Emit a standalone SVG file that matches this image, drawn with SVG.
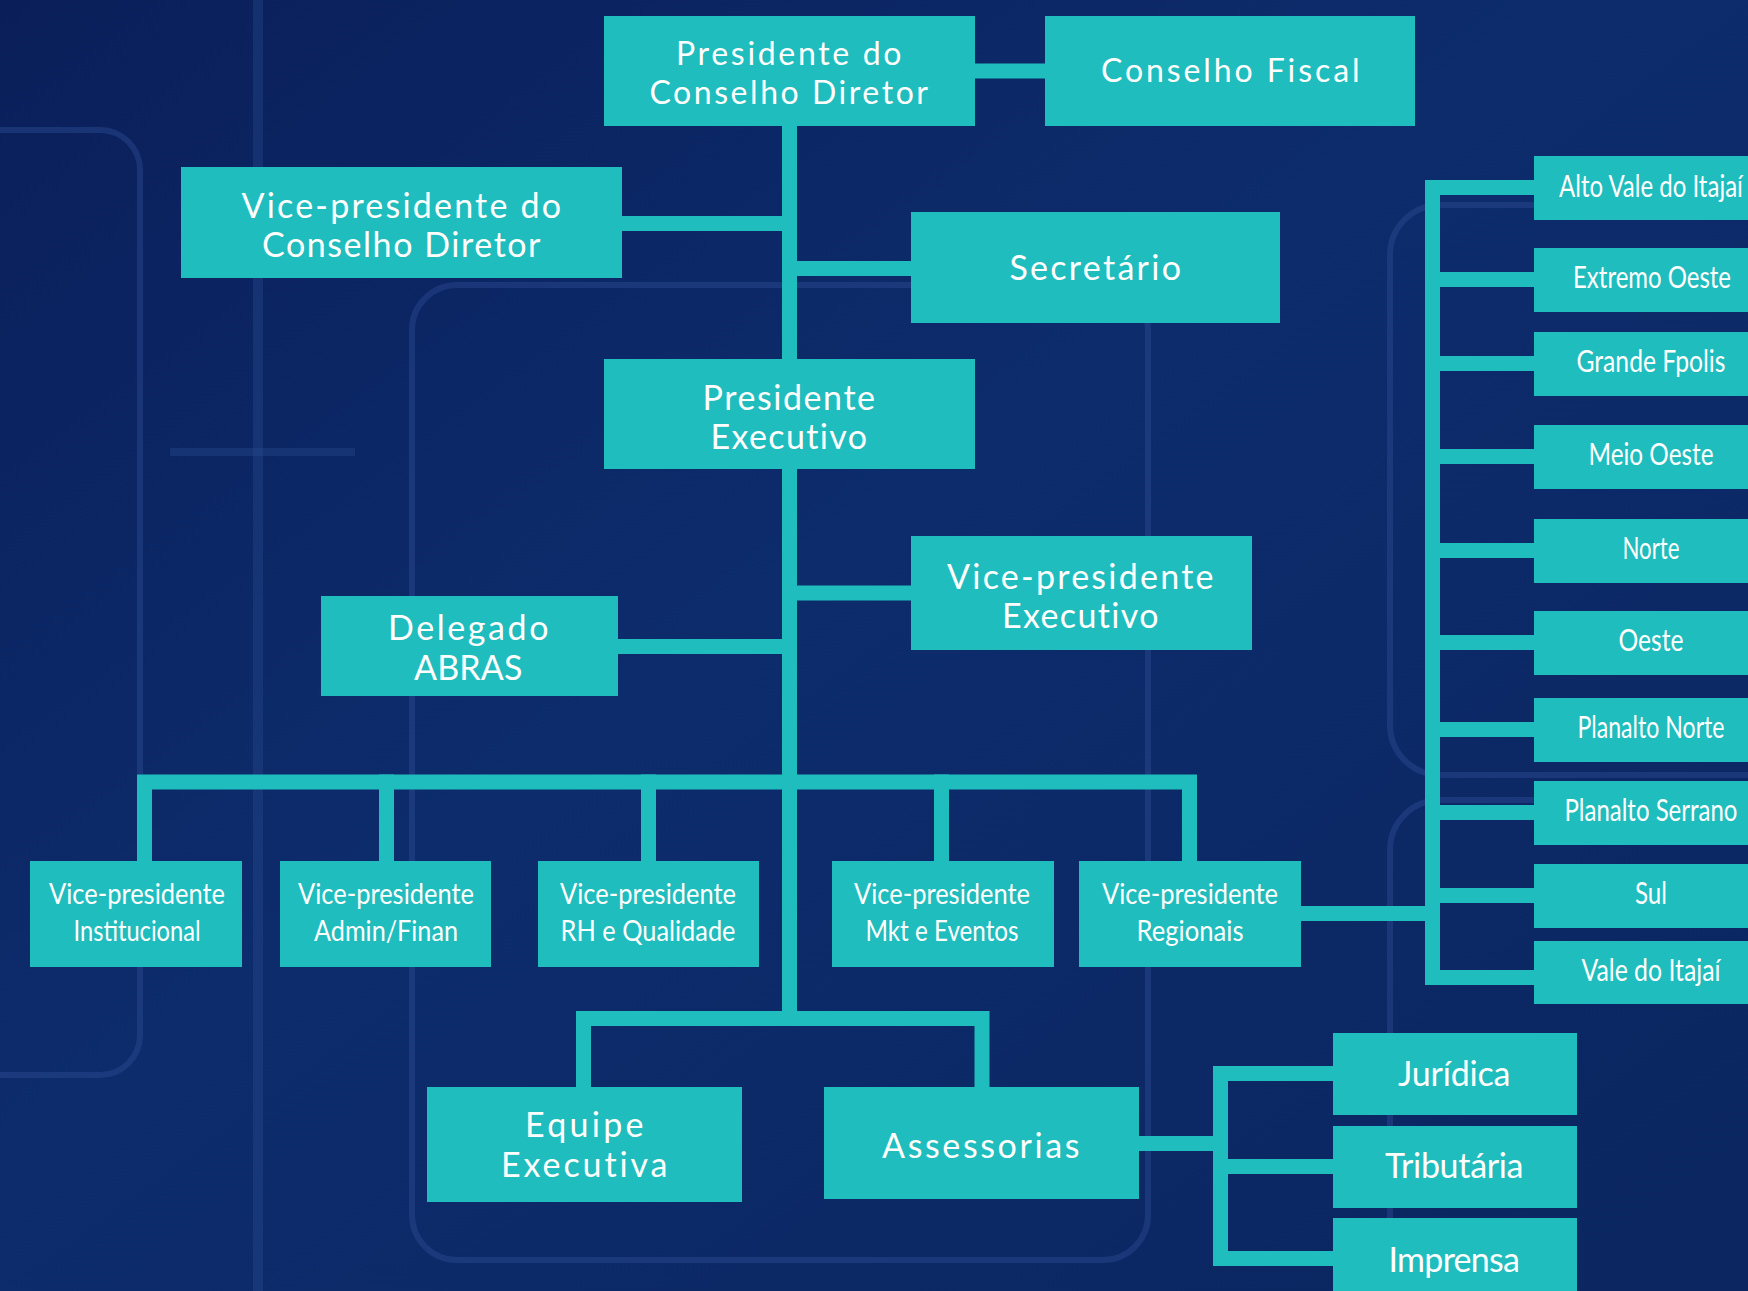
<svg xmlns="http://www.w3.org/2000/svg" width="1748" height="1291" viewBox="0 0 1748 1291">
<defs>
<linearGradient id="bg" x1="0" y1="0" x2="1" y2="1">
<stop offset="0" stop-color="#0a1f5a"/>
<stop offset="0.45" stop-color="#0d2c6c"/>
<stop offset="1" stop-color="#0b2660"/>
</linearGradient>
<style>
.box{fill:#1fbdbd}
.cn{fill:none;stroke:#1fbdbd;stroke-width:15;stroke-linecap:square;stroke-linejoin:miter}
.t{fill:#ffffff;font-family:Lato,"Open Sans","Liberation Sans",sans-serif;text-anchor:middle}
.a{font-size:32px;letter-spacing:1.5px}
.b{font-size:34px;letter-spacing:1.5px}
.c{font-size:28px}
.r{font-size:30px}
.deco{fill:none;stroke:#2c4c93;stroke-opacity:0.45;stroke-width:6}
</style>
</defs>
<rect width="1748" height="1291" fill="url(#bg)"/>
<g id="background">
<rect x="-40" y="130" width="180" height="945" rx="40" class="deco"/>
<rect x="412" y="285" width="736" height="975" rx="45" class="deco" stroke-opacity="0.3"/>
<rect x="1390" y="205" width="420" height="570" rx="50" class="deco" stroke-opacity="0.3"/>
<rect x="1390" y="800" width="420" height="520" rx="50" class="deco" stroke-opacity="0.25"/>
<line x1="258" y1="0" x2="258" y2="1291" stroke="#2c4c93" stroke-opacity="0.35" stroke-width="10"/>
<line x1="170" y1="452" x2="355" y2="452" stroke="#2c4c93" stroke-opacity="0.35" stroke-width="8"/>
</g>
<g id="connectors">
<path class="cn" d="M789.5 126V1018.5"/>
<path class="cn" d="M975 71H1045"/>
<path class="cn" d="M622 223.5H789.5"/>
<path class="cn" d="M789.5 268.5H911"/>
<path class="cn" d="M789.5 593H911"/>
<path class="cn" d="M618 646.5H789.5"/>
<path class="cn" d="M144.5 861V782H1189.5V861"/>
<path class="cn" d="M386.5 782V861M648.5 782V861M941.5 782V861"/>
<path class="cn" d="M1301 913.5H1432.5"/>
<path class="cn" d="M1534 187.5H1432.5V977.5H1534"/>
<path class="cn" d="M1432.5 279.5H1534M1432.5 363.5H1534M1432.5 456.5H1534M1432.5 550.5H1534M1432.5 642.5H1534M1432.5 729.5H1534M1432.5 812.5H1534M1432.5 895.5H1534"/>
<path class="cn" d="M583.5 1087V1018.5H982V1087"/>
<path class="cn" d="M1139 1143.5H1220.5"/>
<path class="cn" d="M1333 1073.5H1220.5V1258.5H1333M1220.5 1166.5H1333"/>
</g>
<g id="n-presidente-conselho"><rect class="box" x="604" y="16" width="371" height="110"/>
<text class="t a" x="789.5" y="65" textLength="227" lengthAdjust="spacing">Presidente do</text>
<text class="t a" x="789.5" y="104" textLength="280" lengthAdjust="spacing">Conselho Diretor</text></g>
<g id="n-conselho-fiscal"><rect class="box" x="1045" y="16" width="370" height="110"/>
<text class="t a" x="1231" y="82" textLength="260" lengthAdjust="spacing">Conselho Fiscal</text></g>
<g id="n-vp-conselho"><rect class="box" x="181" y="167" width="441" height="111"/>
<text class="t b" x="402" y="218" textLength="321" lengthAdjust="spacing">Vice-presidente do</text>
<text class="t b" x="402" y="257" textLength="280" lengthAdjust="spacing">Conselho Diretor</text></g>
<g id="n-secretario"><rect class="box" x="911" y="212" width="369" height="111"/>
<text class="t b" x="1096" y="280" textLength="173" lengthAdjust="spacing">Secretário</text></g>
<g id="n-presidente-executivo"><rect class="box" x="604" y="359" width="371" height="110"/>
<text class="t b" x="789.5" y="410" textLength="174" lengthAdjust="spacing">Presidente</text>
<text class="t b" x="789.5" y="449" textLength="158" lengthAdjust="spacing">Executivo</text></g>
<g id="n-vp-executivo"><rect class="box" x="911" y="536" width="341" height="114"/>
<text class="t b" x="1081" y="589" textLength="268" lengthAdjust="spacing">Vice-presidente</text>
<text class="t b" x="1081" y="628" textLength="158" lengthAdjust="spacing">Executivo</text></g>
<g id="n-delegado"><rect class="box" x="321" y="596" width="297" height="100"/>
<text class="t b" x="469" y="640" textLength="162" lengthAdjust="spacing">Delegado</text>
<text class="t b" x="469" y="680" textLength="110" lengthAdjust="spacing">ABRAS</text></g>
<g id="n-vp-institucional"><rect class="box" x="30" y="861" width="212" height="106"/>
<text class="t c" x="137" y="904" textLength="176" lengthAdjust="spacingAndGlyphs">Vice-presidente</text>
<text class="t c" x="137" y="941" textLength="127" lengthAdjust="spacingAndGlyphs">Institucional</text></g>
<g id="n-vp-admin"><rect class="box" x="280" y="861" width="211" height="106"/>
<text class="t c" x="386" y="904" textLength="176" lengthAdjust="spacingAndGlyphs">Vice-presidente</text>
<text class="t c" x="386" y="941" textLength="144" lengthAdjust="spacingAndGlyphs">Admin/Finan</text></g>
<g id="n-vp-rh"><rect class="box" x="538" y="861" width="221" height="106"/>
<text class="t c" x="648" y="904" textLength="176" lengthAdjust="spacingAndGlyphs">Vice-presidente</text>
<text class="t c" x="648" y="941" textLength="175" lengthAdjust="spacingAndGlyphs">RH e Qualidade</text></g>
<g id="n-vp-mkt"><rect class="box" x="832" y="861" width="222" height="106"/>
<text class="t c" x="942" y="904" textLength="176" lengthAdjust="spacingAndGlyphs">Vice-presidente</text>
<text class="t c" x="942" y="941" textLength="153" lengthAdjust="spacingAndGlyphs">Mkt e Eventos</text></g>
<g id="n-vp-regionais"><rect class="box" x="1079" y="861" width="222" height="106"/>
<text class="t c" x="1190" y="904" textLength="176" lengthAdjust="spacingAndGlyphs">Vice-presidente</text>
<text class="t c" x="1190" y="941" textLength="107" lengthAdjust="spacingAndGlyphs">Regionais</text></g>
<g id="n-alto-vale"><rect class="box" x="1534" y="156" width="214" height="64"/>
<text class="t r" transform="scale(0.75 1)" x="2201.3" y="197" textLength="245" lengthAdjust="spacingAndGlyphs">Alto Vale do Itajaí</text></g>
<g id="n-extremo-oeste"><rect class="box" x="1534" y="248" width="214" height="64"/>
<text class="t r" transform="scale(0.75 1)" x="2202.7" y="288" textLength="210.7" lengthAdjust="spacingAndGlyphs">Extremo Oeste</text></g>
<g id="n-grande-fpolis"><rect class="box" x="1534" y="332" width="214" height="64"/>
<text class="t r" transform="scale(0.75 1)" x="2201.3" y="372" textLength="198.7" lengthAdjust="spacingAndGlyphs">Grande Fpolis</text></g>
<g id="n-meio-oeste"><rect class="box" x="1534" y="425" width="214" height="64"/>
<text class="t r" transform="scale(0.75 1)" x="2201.3" y="465" textLength="166.7" lengthAdjust="spacingAndGlyphs">Meio Oeste</text></g>
<g id="n-norte"><rect class="box" x="1534" y="519" width="214" height="64"/>
<text class="t r" transform="scale(0.75 1)" x="2201.3" y="559" textLength="76" lengthAdjust="spacingAndGlyphs">Norte</text></g>
<g id="n-oeste"><rect class="box" x="1534" y="611" width="214" height="64"/>
<text class="t r" transform="scale(0.75 1)" x="2201.3" y="651" textLength="86.7" lengthAdjust="spacingAndGlyphs">Oeste</text></g>
<g id="n-planalto-norte"><rect class="box" x="1534" y="698" width="214" height="64"/>
<text class="t r" transform="scale(0.75 1)" x="2201.3" y="738" textLength="196" lengthAdjust="spacingAndGlyphs">Planalto Norte</text></g>
<g id="n-planalto-serrano"><rect class="box" x="1534" y="781" width="214" height="64"/>
<text class="t r" transform="scale(0.75 1)" x="2201.3" y="821" textLength="230.7" lengthAdjust="spacingAndGlyphs">Planalto Serrano</text></g>
<g id="n-sul"><rect class="box" x="1534" y="864" width="214" height="64"/>
<text class="t r" transform="scale(0.75 1)" x="2201.3" y="904" textLength="42.7" lengthAdjust="spacingAndGlyphs">Sul</text></g>
<g id="n-vale-itajai"><rect class="box" x="1534" y="941" width="214" height="63"/>
<text class="t r" transform="scale(0.75 1)" x="2201.3" y="981" textLength="185.3" lengthAdjust="spacingAndGlyphs">Vale do Itajaí</text></g>
<g id="n-equipe"><rect class="box" x="427" y="1087" width="315" height="115"/>
<text class="t b" x="585" y="1137" textLength="120" lengthAdjust="spacing">Equipe</text>
<text class="t b" x="585" y="1177" textLength="168" lengthAdjust="spacing">Executiva</text></g>
<g id="n-assessorias"><rect class="box" x="824" y="1087" width="315" height="112"/>
<text class="t b" x="981.5" y="1158" textLength="199" lengthAdjust="spacing">Assessorias</text></g>
<g id="n-juridica"><rect class="box" x="1333" y="1033" width="244" height="82"/>
<text class="t b" x="1455" y="1086" textLength="114" lengthAdjust="spacing">Jurídica</text></g>
<g id="n-tributaria"><rect class="box" x="1333" y="1126" width="244" height="82"/>
<text class="t b" x="1455" y="1178" textLength="140" lengthAdjust="spacing">Tributária</text></g>
<g id="n-imprensa"><rect class="box" x="1333" y="1218" width="244" height="82"/>
<text class="t b" x="1455" y="1272" textLength="133" lengthAdjust="spacing">Imprensa</text></g>
</svg>
